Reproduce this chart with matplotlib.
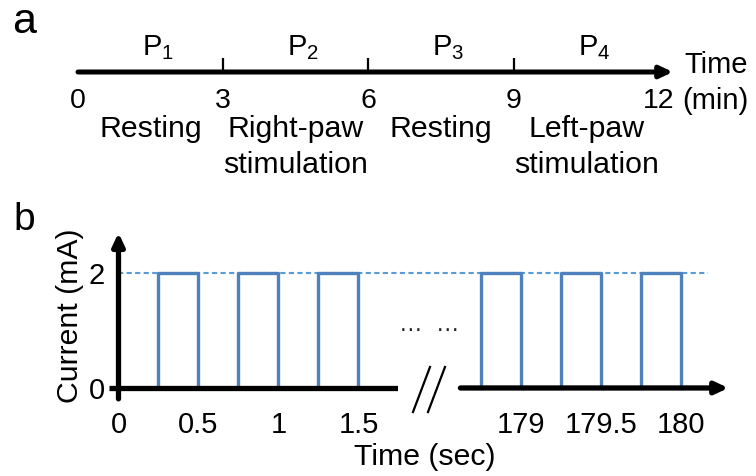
import matplotlib
matplotlib.use('Agg')
import matplotlib.pyplot as plt
from matplotlib.lines import Line2D

plt.rcParams['font.family'] = ['Liberation Sans', 'DejaVu Sans']
plt.rcParams['mathtext.fontset'] = 'custom'
plt.rcParams['mathtext.rm'] = 'Liberation Sans'
plt.rcParams['mathtext.it'] = 'Liberation Sans:italic'
plt.rcParams['mathtext.default'] = 'regular'

# ---------------- data ----------------
timeline_ticks = [0, 3, 6, 9, 12]
period_names = ['P$_1$', 'P$_2$', 'P$_3$', 'P$_4$']
period_desc = ['Resting', 'Right-paw\nstimulation', 'Resting', 'Left-paw\nstimulation']
timeline_unit = ['Time', '(min)']

pulse_on_early = [0.25, 0.75, 1.25]
pulse_off_early = [0.5, 1.0, 1.5]
pulse_on_late = [178.75, 179.25, 179.75]
pulse_off_late = [179.0, 179.5, 180.0]
pulse_amp = 2
xticks_early = [0, 0.5, 1, 1.5]
xtick_labels_early = ['0', '0.5', '1', '1.5']
xticks_late = [179, 179.5, 180]
xtick_labels_late = ['179', '179.5', '180']
yticks = [0, 2]
ytick_labels = ['0', '2']

W, H = 756, 476
fig = plt.figure(figsize=(W / 100, H / 100), dpi=100)


def fx(px):
    return px / W


def fy(py):
    return 1 - py / H


BLUE = '#4F81BD'
DASH_BLUE = '#5B9BD5'
TXT = 21.8
NUM_A = 20.5
NUM_B = 21

# ---------------- panel a ----------------
ax_a = fig.add_axes([fx(78), fy(92), (673 - 78) / W, 40 / H])
ax_a.set_xlim(0, 12.29)
ax_a.set_ylim(-1, 1)
ax_a.axis('off')
ax_a.annotate('', xy=(12.29, 0), xytext=(timeline_ticks[0], 0),
              arrowprops=dict(arrowstyle='-|>,head_length=0.75,head_width=0.35',
                              color='k', lw=3.6, shrinkA=0, shrinkB=0,
                              mutation_scale=10),
              annotation_clip=False)
ax_a.vlines(timeline_ticks[1:-1], 0, 0.7, color='k', lw=1.6)
for t in timeline_ticks:
    ax_a.annotate(str(t), xy=(t, 0), xytext=(0, -25.9), textcoords='offset points',
                  ha='center', va='baseline', fontsize=NUM_A)
for i, (name, desc) in enumerate(zip(period_names, period_desc)):
    mid = (timeline_ticks[i] + timeline_ticks[i + 1]) / 2
    ax_a.annotate(name, xy=(mid, 0), xytext=(5.4, 12.2), textcoords='offset points',
                  ha='center', va='baseline', fontsize=21)
    for j, line in enumerate(desc.split('\n')):
        ax_a.annotate(line, xy=(mid, 0), xytext=(0, -46.8 - 25.9 * j),
                      textcoords='offset points', ha='center', va='baseline',
                      fontsize=TXT)
ax_a.annotate(timeline_unit[0], xy=(timeline_ticks[-1], 0), xytext=(18.0, -0.7),
              textcoords='offset points', ha='left', va='baseline', fontsize=21)
ax_a.annotate(timeline_unit[1], xy=(timeline_ticks[-1], 0), xytext=(16.8, -26.6),
              textcoords='offset points', ha='left', va='baseline', fontsize=21)

# ---------------- panel b ----------------
yb_top, yb_bot = 232.75, 398.9
ax_l = fig.add_axes([fx(108.5), fy(yb_bot), (397.5 - 108.5) / W, (yb_bot - yb_top) / H])
ax_r = fig.add_axes([fx(460.4), fy(yb_bot), (728.4 - 460.4) / W, (yb_bot - yb_top) / H])
ax_l.set_xlim(-0.0625, 1.744)
ax_r.set_xlim(178.62, 180.30)
for ax in (ax_l, ax_r):
    ax.set_ylim(-0.19, 2.70)
    for s in ax.spines.values():
        s.set_visible(False)
    ax.patch.set_alpha(0)
    ax.tick_params(length=0, labelsize=NUM_B)
    ax.tick_params(axis='x', pad=9.0)
    ax.tick_params(axis='y', pad=2.5)


def waveform(ons, offs, amp):
    xs, ys = [], []
    for on, off in zip(ons, offs):
        xs += [on, on, off, off]
        ys += [0, amp, amp, 0]
    return xs, ys


xs, ys = waveform(pulse_on_early, pulse_off_early, pulse_amp)
ax_l.plot(xs, ys, color=BLUE, lw=2.4, zorder=2)
xs, ys = waveform(pulse_on_late, pulse_off_late, pulse_amp)
ax_r.plot(xs, ys, color=BLUE, lw=2.4, zorder=2)

# dashed amplitude level
ax_l.plot([0, 2.137], [pulse_amp, pulse_amp], ls=(0, (2.5, 1.6)), lw=1.5,
          color=DASH_BLUE, clip_on=False, zorder=1)
ax_r.plot([178.62, 180.17], [pulse_amp, pulse_amp], ls=(0, (2.5, 1.6)), lw=1.5,
          color=DASH_BLUE, clip_on=False, zorder=1)

# axes lines
ax_l.plot([-0.0625, 1.744], [0, 0], color='k', lw=3.8, solid_capstyle='butt', zorder=3)
ax_l.annotate('', xy=(0, 2.70), xytext=(0, -0.19),
              arrowprops=dict(arrowstyle='-|>,head_length=0.75,head_width=0.35',
                              color='k', lw=3.8, shrinkA=0, shrinkB=0,
                              mutation_scale=10),
              annotation_clip=False, zorder=3)
ax_r.annotate('', xy=(180.30, 0), xytext=(178.62, 0),
              arrowprops=dict(arrowstyle='-|>,head_length=0.75,head_width=0.35',
                              color='k', lw=3.8, shrinkA=0, shrinkB=0,
                              mutation_scale=10),
              annotation_clip=False, zorder=3)

ax_l.set_xticks(xticks_early)
ax_l.set_xticklabels(xtick_labels_early)
ax_l.set_yticks(yticks)
ax_l.set_yticklabels(ytick_labels)
ax_r.set_xticks(xticks_late)
ax_r.set_xticklabels(xtick_labels_late)
ax_r.set_yticks([])

ax_l.set_ylabel('Current (mA)', fontsize=TXT)
ax_l.yaxis.set_label_coords(-0.085, 0.5)
fig.text(fx(425), fy(465), 'Time (sec)', ha='center', va='baseline', fontsize=TXT)

# ellipsis and break marks
fig.text(fx(429), fy(331), '\u2026  \u2026', ha='center', va='baseline', fontsize=17,
         color='#222222')
for dx in (0, 15):
    fig.add_artist(Line2D([fx(413 + dx), fx(430 + dx)], [fy(412), fy(367)],
                          color='k', lw=1.6))

# panel letters
fig.text(fx(12), fy(33), 'a', fontsize=31, va='baseline', ha='left')
fig.text(fx(13), fy(230), 'b', fontsize=28, va='baseline', ha='left')

fig.savefig('out.png', dpi=100)
